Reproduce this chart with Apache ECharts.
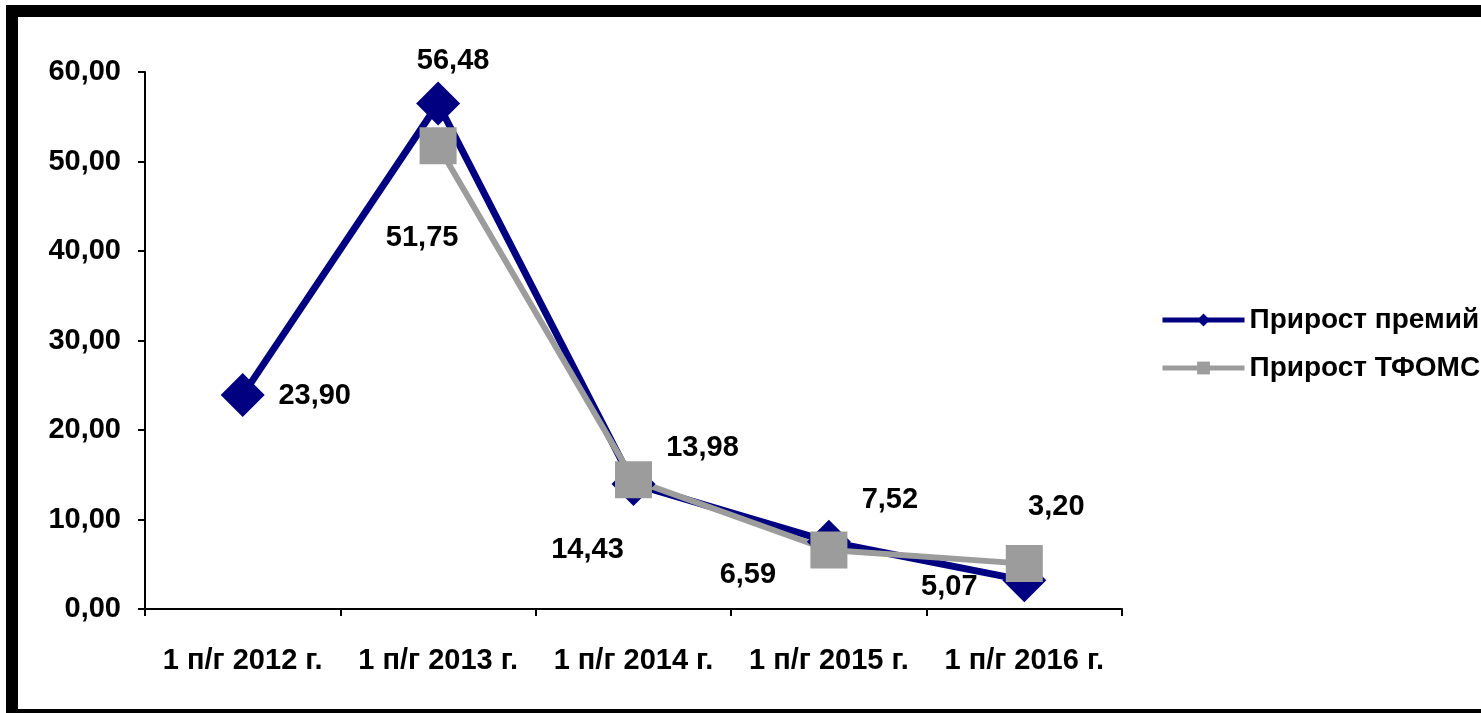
<!DOCTYPE html>
<html>
<head>
<meta charset="utf-8">
<script src="https://cdn.jsdelivr.net/npm/echarts@6/dist/echarts.min.js"></script>
<style>
html,body{margin:0;padding:0;background:#fff;}
#chart{width:1481px;height:713px;}
</style>
</head>
<body>
<div id="chart"></div>
<script>
var categories = ['1 п/г 2012 г.', '1 п/г 2013 г.', '1 п/г 2014 г.', '1 п/г 2015 г.', '1 п/г 2016 г.'];
var premiumGrowth = [23.90, 56.48, 13.98, 7.52, 3.20];
var tfomsGrowth = [null, 51.75, 14.43, 6.59, 5.07];
var seriesNames = ['Прирост премий', 'Прирост ТФОМС'];

// label placement (style only)
var premiumLabelOffsets = [[72, 1], [15, -43], [69, -36], [61, -42], [32, -73]];
var tfomsLabelOffsets = [[0, 0], [-16, 92], [-46, 70], [-81, 25], [-75, 23]];

function fmt(v) { return v.toFixed(2).replace('.', ','); }

function buildData(values, offsets) {
  return values.map(function (v, i) {
    if (v === null) return '-';
    return { value: v, label: { offset: offsets[i] } };
  });
}

var FONT = '"Liberation Sans", Arial, sans-serif';
var chart = echarts.init(document.getElementById('chart'), null, { renderer: 'canvas' });

var labelStyle = {
  show: true,
  position: 'inside',
  color: '#000',
  fontFamily: FONT,
  fontWeight: 'bold',
  fontSize: 29,
  formatter: function (p) { return fmt(p.value); }
};

chart.setOption({
  backgroundColor: '#fff',
  animation: false,
  grid: { left: 145, right: 359, top: 72, bottom: 104, containLabel: false },
  legend: {
    orient: 'vertical',
    left: 1155,
    top: 299,
    itemWidth: 82,
    itemHeight: 16,
    itemGap: 16,
    data: seriesNames,
    lineStyle: { width: 5 },
    textStyle: { color: '#000', fontFamily: FONT, fontWeight: 'bold', fontSize: 28, lineHeight: 32 }
  },
  xAxis: {
    type: 'category',
    data: categories,
    boundaryGap: true,
    axisLine: { lineStyle: { color: '#000', width: 2 } },
    axisTick: { show: true, length: 7, alignWithLabel: false, lineStyle: { color: '#000', width: 2 } },
    axisLabel: { color: '#000', fontFamily: FONT, fontWeight: 'bold', fontSize: 29, margin: 37, interval: 0 },
    splitLine: { show: false }
  },
  yAxis: {
    type: 'value',
    min: 0,
    max: 60,
    interval: 10,
    axisLine: { show: true, lineStyle: { color: '#000', width: 2 } },
    axisTick: { show: true, length: 7, lineStyle: { color: '#000', width: 2 } },
    axisLabel: { color: '#000', fontFamily: FONT, fontWeight: 'bold', fontSize: 29, margin: 24, formatter: fmt },
    splitLine: { show: false }
  },
  series: [
    {
      name: seriesNames[0],
      type: 'line',
      data: buildData(premiumGrowth, premiumLabelOffsets),
      symbol: 'diamond',
      symbolSize: 44,
      color: '#000080',
      lineStyle: { color: '#000080', width: 7 },
      itemStyle: { color: '#000080' },
      label: labelStyle
    },
    {
      name: seriesNames[1],
      type: 'line',
      data: buildData(tfomsGrowth, tfomsLabelOffsets),
      symbol: 'rect',
      symbolSize: 37,
      color: '#9c9c9c',
      lineStyle: { color: '#9c9c9c', width: 6 },
      itemStyle: { color: '#9c9c9c' },
      label: labelStyle
    }
  ],
  graphic: [
    { type: 'rect', shape: { x: 6, y: 5, width: 12, height: 708 }, style: { fill: '#000' }, silent: true },
    { type: 'rect', shape: { x: 6, y: 5, width: 1475, height: 12 }, style: { fill: '#000' }, silent: true },
    { type: 'rect', shape: { x: 6, y: 709, width: 1475, height: 4 }, style: { fill: '#000' }, silent: true }
  ]
});
</script>
</body>
</html>
